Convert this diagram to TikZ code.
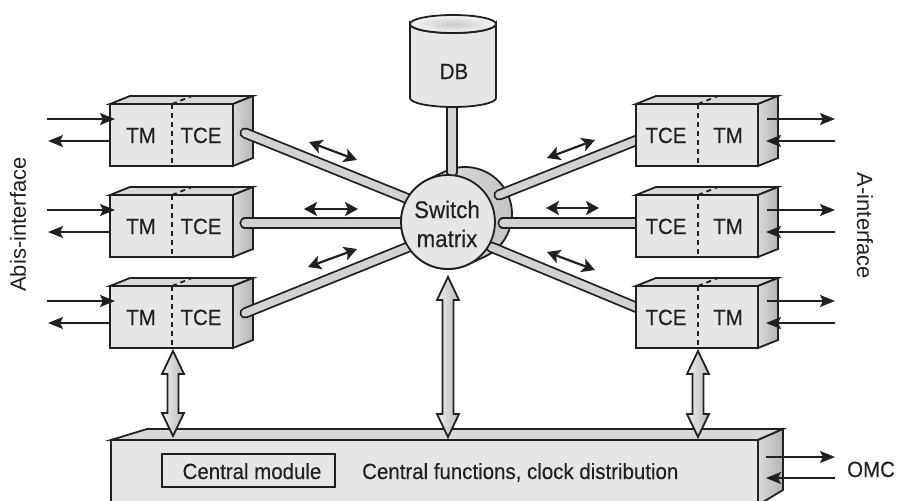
\documentclass[tikz,border=0pt]{standalone}
\usepackage{fontspec}
\setmainfont{Liberation Sans}[FakeStretch=0.93,FakeBold=0.3]
\newfontfamily\regfont{Liberation Sans}
\usetikzlibrary{arrows.meta,calc}
\definecolor{ink}{HTML}{231F20}
\definecolor{facefront}{HTML}{E6E6E7}
\definecolor{facetop}{HTML}{D9D9DB}
\definecolor{sidel}{HTML}{DADADB}
\definecolor{sider}{HTML}{B4B4B6}
\definecolor{barfill}{HTML}{D2D2D4}
\tikzset{
  outl/.style={draw=ink, line width=1.8pt},
  divider/.style={draw=ink, line width=1.8pt, dash pattern=on 5pt off 4pt},
  barstyle/.style={draw=ink, line width=1.8pt, double=barfill, double distance=7.5pt, line cap=round},
  ioarrow/.style={draw=ink, line width=1.6pt, -{Stealth[length=15pt,width=12pt,inset=3pt]}},
  biarrow/.style={draw=ink, line width=2.2pt, {Stealth[length=13pt,width=14pt,inset=3pt]}-{Stealth[length=13pt,width=14pt,inset=3pt]}},
  fatstyle/.style={draw=ink, line width=1.8pt, line join=miter, left color=gray!12, right color=gray!55},
  lbl/.style={text=ink, font=\fontsize{22}{26}\selectfont, inner sep=0pt, anchor=base},
  biglbl/.style={text=ink, font=\fontsize{24}{29}\selectfont, inner sep=0pt, anchor=base},
  sidelbl/.style={text=ink, font=\regfont\fontsize{22}{26}\selectfont, inner sep=0pt}
}
\newcommand\cubebox[5]{%
  \begin{scope}[shift={(#1,#2)}]
    \draw[outl, fill=facetop] (0,0) -- (20,-8) -- ({#3+20},-8) -- (#3,0) -- cycle;
    \draw[outl, left color=sidel, right color=sider] (#3,0) -- ({#3+20},-8) -- ({#3+20},{#4-8}) -- (#3,#4) -- cycle;
    \draw[outl, fill=facefront] (0,0) rectangle (#3,#4);
    \draw[divider] (#5,0) -- (#5,#4);
    \draw[divider] (#5,0) -- ({#5+20},-8);
  \end{scope}}
\newcommand\fatarrow[2]{%
  \draw[fatstyle] let \p1=(#1), \p2=(#2) in
    (\p1) -- ++(11pt,-23pt) -- ++(-5.5pt,0pt) -- (\x2+5.5pt,\y2+23pt) -- ++(5.5pt,0pt)
    -- (\p2) -- ++(-11pt,23pt) -- ++(5.5pt,0pt) -- (\x1-5.5pt,\y1-23pt) -- ++(-5.5pt,0pt) -- cycle;}
\begin{document}
\begin{tikzpicture}[x=1pt,y=-1pt]
\useasboundingbox (0,0) rectangle (898,501);
\clip (0,0) rectangle (898,501);

% ---------- left boxes ----------
\foreach \t/\n/\b in {104/1/133, 195/2/223, 286/3/313} {
  \cubebox{110}{\t}{123}{62}{62}
  \node[lbl] (Ltm\n) at (141,\t+39) {TM};
  \node[lbl] (Ltce\n) at (201,\t+39) {TCE};
  \coordinate (lia\n) at (47,\t+15);
  \coordinate (lib\n) at (115,\t+15);
  \coordinate (loa\n) at (110,\t+37);
  \coordinate (lob\n) at (48,\t+37);
  \draw[ioarrow] (lia\n) -- (lib\n);
  \draw[ioarrow] (loa\n) -- (lob\n);
  \coordinate (Lbar\n) at (245,\b);
}

% ---------- switch matrix back (hull) ----------
\coordinate (swf) at (448,222);
\coordinate (swb) at (465,214);
\draw[outl, left color=gray!18, right color=gray!48]
  ($(swb)+(64.8:47)$) arc[start angle=64.8, end angle=-115.2, radius=47]
  -- ($(swf)+(-115.2:47)$) arc[start angle=-115.2, end angle=-295.2, radius=47] -- cycle;

% ---------- bars ----------
\coordinate (aimT) at (448,215);
\coordinate (aimM) at (448,223);
\coordinate (aimB) at (448,231);
\draw[barstyle] (Lbar1) -- (aimT);
\draw[barstyle] (Lbar2) -- (aimM);
\draw[barstyle] (Lbar3) -- (aimB);
\coordinate (Rs1) at (499,195);
\coordinate (Re1) at (650,135);
\coordinate (Rs2) at (503,223);
\coordinate (Re2) at (650,223);
\coordinate (Rs3) at (491,247);
\coordinate (Re3) at (650,313);
\draw[barstyle] (Rs1) -- (Re1);
\draw[barstyle] (Rs2) -- (Re2);
\draw[barstyle] (Rs3) -- (Re3);
\coordinate (stemTop) at (452,90);
\coordinate (stemBot) at (452,172);
\draw[barstyle] (stemBot) -- (stemTop);

% ---------- switch matrix front ----------
\draw[outl, fill=facefront] (swf) circle[radius=47];
\node[biglbl] (sw1) at (447,218) {Switch};
\node[biglbl] (sw2) at (447,247) {matrix};

% ---------- right boxes ----------
\foreach \t/\n in {104/1, 195/2, 286/3} {
  \cubebox{636}{\t}{122}{62}{62}
  \node[lbl] (Rtce\n) at (666,\t+39) {TCE};
  \node[lbl] (Rtm\n) at (728,\t+39) {TM};
  \coordinate (roa\n) at (767,\t+15);
  \coordinate (rob\n) at (835,\t+15);
  \coordinate (ria\n) at (835,\t+37);
  \coordinate (rib\n) at (766,\t+37);
  \draw[ioarrow] (roa\n) -- (rob\n);
  \draw[ioarrow] (ria\n) -- (rib\n);
}

% ---------- DB cylinder ----------
\draw[outl, fill=facefront] (410,24) -- (410,98)
  arc[start angle=180, end angle=0, x radius=43, y radius=9] -- (496,24)
  arc[start angle=0, end angle=180, x radius=43, y radius=9] -- cycle;
\draw[outl, inner color=gray!42, outer color=gray!8] (453,24) ellipse[x radius=43, y radius=9];
\node[lbl] (db) at (454,79) {DB};

% ---------- bottom box ----------
\draw[outl, fill=facetop] (111,440) -- (147,429) -- (783,429) -- (758,440) -- cycle;
\draw[outl, left color=sidel, right color=sider] (758,440) -- (783,429) -- (783,490) -- (758,505) -- cycle;
\draw[outl, fill=facefront] (111,440) rectangle (758,520);
\node[draw=ink, line width=1.5pt, minimum width=173pt, minimum height=33pt, inner sep=0pt] (cmbox) at (248.5,470.5) {};
\node[lbl] (cmtext) at (252,479) {Central module};
\node[lbl, anchor=base west] (cftext) at (362,479) {Central functions, clock distribution};
\coordinate (oa) at (766,457);
\coordinate (ob) at (835,457);
\coordinate (ia) at (835,478);
\coordinate (ib) at (766,478);
\draw[ioarrow] (oa) -- (ob);
\draw[ioarrow] (ia) -- (ib);
\node[lbl, anchor=base west] (omc) at (847,477) {OMC};

% ---------- fat vertical arrows ----------
\coordinate (fl1) at (173,351);
\coordinate (fl2) at (173,436);
\coordinate (fm1) at (448,277);
\coordinate (fm2) at (448,437);
\coordinate (fr1) at (698,351);
\coordinate (fr2) at (698,437);
\fatarrow{fl1}{fl2}
\fatarrow{fm1}{fm2}
\fatarrow{fr1}{fr2}

% ---------- small double arrows ----------
\coordinate (la1a) at (309,142); \coordinate (la1b) at (357,160);
\coordinate (la2a) at (304,209); \coordinate (la2b) at (358,209);
\coordinate (la3a) at (308,267); \coordinate (la3b) at (357,249);
\coordinate (ra1a) at (547,158); \coordinate (ra1b) at (595,140);
\coordinate (ra2a) at (546,208); \coordinate (ra2b) at (599,208);
\coordinate (ra3a) at (547,252); \coordinate (ra3b) at (595,270);
\draw[biarrow] (la1a) -- (la1b);
\draw[biarrow] (la2a) -- (la2b);
\draw[biarrow] (la3a) -- (la3b);
\draw[biarrow] (ra1a) -- (ra1b);
\draw[biarrow] (ra2a) -- (ra2b);
\draw[biarrow] (ra3a) -- (ra3b);

% ---------- side labels ----------
\node[sidelbl, rotate=90] (abis) at (18,224.5) {Abis-interface};
\node[sidelbl, rotate=-90] (aif) at (865,226) {A-interface};
\end{tikzpicture}
\end{document}
